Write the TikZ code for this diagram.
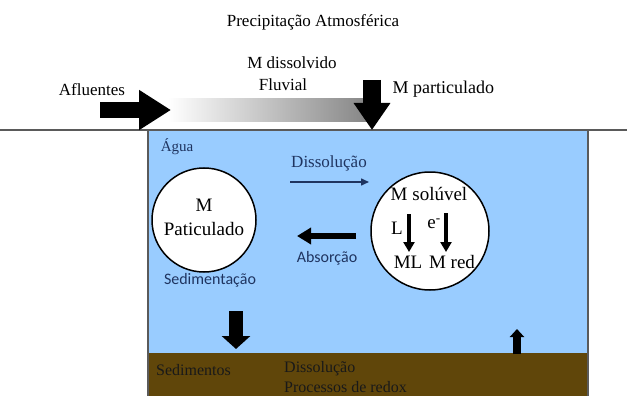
\documentclass[tikz,border=0pt]{standalone}
\usepackage{fontspec}
\setmainfont{Liberation Serif}
\newfontfamily\humsans{Carlito}
\usepackage{tikz}
\usetikzlibrary{arrows.meta}
\definecolor{agua}{RGB}{153,204,255}
\definecolor{lodo}{RGB}{96,70,10}
\definecolor{tinta}{RGB}{31,52,96}
\definecolor{borda}{RGB}{90,90,90}

\begin{document}
\begin{tikzpicture}[x=1pt,y=-1pt,
    lbl/.style={font=\fontsize{17}{19}\selectfont},
    big/.style={font=\fontsize{19}{21}\selectfont},
    azul/.style={text=tinta,font=\humsans\fontsize{16}{18}\selectfont},
    bloco/.style={line width=#1,draw=black}]
    \useasboundingbox (0,0) rectangle (627,396);
    % fundo: agua e sedimentos
    \fill [agua] (148,131) rectangle (588,353);
    \fill [lodo] (148,353) rectangle (588,396);
    \draw [borda,line width=1.5pt] (148,131) -- (148,396) (588,131) -- (588,396);
    \draw [borda,line width=2pt] (0,130) -- (627,130);
    % entradas
    \node [lbl] (precip) at (313,22) {Precipitação Atmosférica};
    \node [lbl] (afl) at (92,90) {Afluentes};
    \node [lbl] (diss) at (292,63) {M dissolvido};
    \node [lbl] (fluv) at (283,85) {Fluvial};
    \node [lbl,anchor=west,font=\fontsize{18}{20}\selectfont] (mpart) at (389,89) {M particulado};
    \shade [left color=white,right color=black!48] (168,99) rectangle (370,121);
    \coordinate (afl0) at (100,110);
    \coordinate (afl1) at (171,110);
    \draw [bloco=16pt,-{Triangle[length=32pt,width=38pt]}] (afl0) -- (afl1);
    \coordinate (mp0) at (372,80);
    \coordinate (mp1) at (372,130);
    \draw [bloco=18pt,-{Triangle[length=27pt,width=35pt]}] (mp0) -- (mp1);
    % coluna de agua
    \node [text=tinta,font=\fontsize{15}{17}\selectfont] (agua) at (177,147) {Água};
    \node [circle,draw,line width=1.5pt,fill=white,minimum size=104pt] (part) at (204,220) {};
    \node [big] (partM) at (204,205) {M};
    \node [big] (partP) at (204,229) {Paticulado};
    \node [azul] (sedtxt) at (210,280) {Sedimentação};
    \node [circle,draw,line width=1.5pt,fill=white,minimum size=118pt] (sol) at (430,231) {};
    \node [big] (solM) at (429,194) {M solúvel};
    \node [big] (solL) at (397,228) {L};
    \node [big] (sole) at (434,224) {e\textsuperscript{-}};
    \node [big] (solML) at (408,262) {ML};
    \node [big] (solred) at (452,262) {M red};
    \draw [bloco=4pt,-{Triangle[length=10pt,width=11pt]}] (409,214) coordinate (l0) -- (409,252) coordinate (l1);
    \draw [bloco=4pt,-{Triangle[length=10pt,width=11pt]}] (446,213) coordinate (e0) -- (446,252) coordinate (e1);
    \node [text=tinta,lbl] (dstxt) at (329,163) {Dissolução};
    \coordinate (ds0) at (290,182);
    \coordinate (ds1) at (369,182);
    \draw [tinta,line width=1.5pt,-{Triangle[length=8pt,width=7pt]}] (ds0) -- (ds1);
    \node [azul] (abstxt) at (327,258) {Absorção};
    \coordinate (ab0) at (356,236);
    \coordinate (ab1) at (297,236);
    \draw [bloco=6pt,-{Triangle[length=14pt,width=16pt]}] (ab0) -- (ab1);
    % sedimentos
    \coordinate (sd0) at (236,311);
    \coordinate (sd1) at (236,349);
    \draw [bloco=14pt,-{Triangle[length=13pt,width=28pt]}] (sd0) -- (sd1);
    \coordinate (up0) at (517,354);
    \coordinate (up1) at (517,329);
    \draw [bloco=8pt,-{Triangle[length=8pt,width=14pt]}] (up0) -- (up1);
    \node [text=black!90,anchor=west,font=\fontsize{16}{18}\selectfont,inner sep=1pt] (sedim) at (155,370) {Sedimentos};
    \node [text=black!90,anchor=west,font=\fontsize{16}{18}\selectfont,inner sep=1pt] (proc1) at (283,369) {Dissolução};
    \node [text=black!90,anchor=west,font=\fontsize{16}{18}\selectfont,inner sep=1pt] (proc2) at (283,387) {Processos de redox};
\end{tikzpicture}
\end{document}
